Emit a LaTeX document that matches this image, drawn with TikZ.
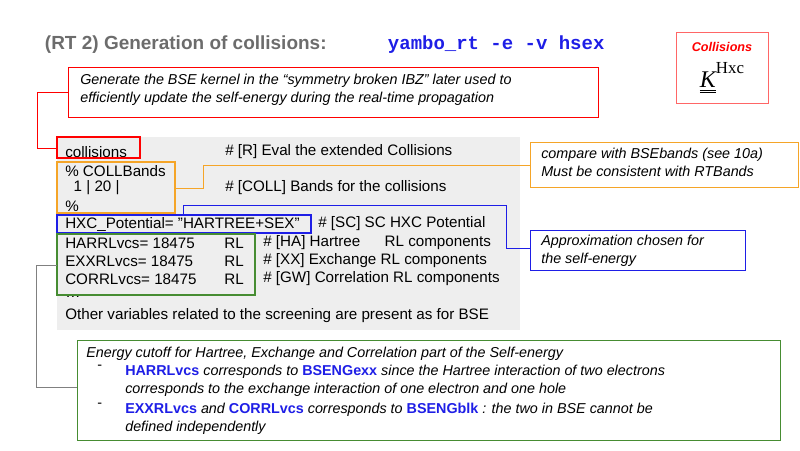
\documentclass[tikz,border=0pt]{standalone}
\usepackage{fontspec}
\setmainfont{Liberation Sans}
\setmonofont{Liberation Mono}
\newfontfamily\kernfont{Liberation Serif}
\usetikzlibrary{positioning}
\definecolor{hlblue}{RGB}{30,30,230}
\definecolor{hlorange}{RGB}{245,165,40}
\definecolor{hlgreen}{RGB}{70,140,50}
\definecolor{bggray}{RGB}{238,238,238}
\begin{document}
\begin{tikzpicture}
	[x=0.025cm,y=-0.025cm,
	code/.style={anchor=west,inner sep=0pt,font=\fontsize{10.8}{12}\selectfont},
	frame/.style={draw,line width=0.9pt},
	note/.style={anchor=north west,align=left,inner sep=0pt,font=\fontsize{10.2}{13}\selectfont\itshape},
	link/.style={line width=0.5pt}
	]
	\useasboundingbox (0,0) rectangle (800,450);
	% title
	\node[anchor=west,text=gray!85!black,font=\fontsize{13.5}{15}\selectfont\bfseries] (title) at (40,45){(RT 2) Generation of collisions:};
	\node[anchor=west,text=hlblue,font=\fontsize{13.5}{15}\selectfont\ttfamily\bfseries] (cmd) at (383,45){yambo\_rt -e -v hsex};
	% collisions symbol
	\draw[red!60,line width=0.7pt] (676,32) rectangle (768,103);
	\node[text=red,font=\fontsize{9}{10}\selectfont\bfseries\itshape] (colltag) at (722,47){Collisions};
	\node[font=\fontsize{17}{18}\selectfont\kernfont] (kern) at (722,78){\underline{\underline{\itshape K}}\raisebox{1.3ex}{\fontsize{12}{12}\selectfont Hxc}};
	% top note
	\draw[red,line width=0.7pt] (68,67) rectangle (598,117);
	\node[note] (topnote) at (80,74){Generate the BSE kernel in the ``symmetry broken IBZ'' later used to\\efficiently update the self-energy during the real-time propagation};
	% input file
	\fill[bggray] (57,137) rectangle (520,330);
	\node[code] (l1) at (65,152){collisions};
	\node[code] (c1) at (225,152){\# [R] Eval the extended Collisions};
	\node[code] (l2) at (65,171){\% COLLBands};
	\node[code] (l3) at (65,188){\ \ 1 | 20 |};
	\node[code] (c3) at (225,188){\# [COLL] Bands for the collisions};
	\node[code] (l4) at (65,206){\%};
	\node[code] (l5) at (65,224){HXC\_Potential= "HARTREE+SEX"};
	\node[code] (c5) at (318,224){\# [SC] SC HXC Potential};
	\node[code] (l6) at (65,243){HARRLvcs= 18475};
	\node[code] (l7) at (65,261){EXXRLvcs= 18475};
	\node[code] (l8) at (65,279){CORRLvcs= 18475};
	\foreach \y in {243,261,279}
		\node[code] at (224,\y){RL};
	\node[code] (c6) at (263,243){\# [HA] Hartree\hspace{1.6em}RL components};
	\node[code] (c7) at (263,261){\# [XX] Exchange RL components};
	\node[code] (c8) at (263,279){\# [GW] Correlation RL components};
	\node[code] (l9) at (65,297){\dots};
	\node[code] (l10) at (65,316){Other variables related to the screening are present as for BSE};
	% highlight frames
	\draw[frame,red] (57,137) rectangle (140,158);
	\draw[frame,hlorange] (57,162) rectangle (175,213);
	\draw[frame,hlblue] (57,215) rectangle (311,233);
	\draw[frame,hlgreen] (57,234) rectangle (255,295);
	% side notes
	\draw[hlorange,line width=0.7pt] (530,142) rectangle (798,187);
	\node[note] (orangenote) at (541,148){compare with BSEbands (see 10a)\\Must be consistent with RTBands};
	\draw[hlblue,line width=0.7pt] (530,230) rectangle (745,270);
	\node[note] (bluenote) at (541,235){Approximation chosen for\\the self-energy};
	\draw[hlgreen,line width=0.7pt] (77,340) rectangle (780,440);
	\node[note] (greennote) at (86,347){Energy cutoff for Hartree, Exchange and Correlation part of the Self-energy};
	\node[note,font=\fontsize{10.2}{13}\selectfont] (b1) at (97,365){-};
	\node[note] (g1) at (125,365){{\upshape\bfseries\color{hlblue}HARRLvcs} corresponds to {\upshape\bfseries\color{hlblue}BSENGexx} since the Hartree interaction of two electrons\\corresponds to the exchange interaction of one electron and one hole};
	\node[note,font=\fontsize{10.2}{13}\selectfont] (b2) at (97,403){-};
	\node[note] (g2) at (125,403){{\upshape\bfseries\color{hlblue}EXXRLvcs} and {\upshape\bfseries\color{hlblue}CORRLvcs} corresponds to {\upshape\bfseries\color{hlblue}BSENGblk} : the two in BSE cannot be\\defined independently};
	% connectors
	\draw[link,red] (68,92) -- (37,92) -- (37,148) -- (57,148);
	\draw[link,hlorange] (175,188) -- (203,188) -- (203,165) -- (530,165);
	\draw[link,hlblue] (183,215) -- (183,205) -- (506,205) -- (506,248) -- (530,248);
	\draw[link,gray] (57,265) -- (36,265) -- (36,387) -- (77,387);
\end{tikzpicture}
\end{document}
